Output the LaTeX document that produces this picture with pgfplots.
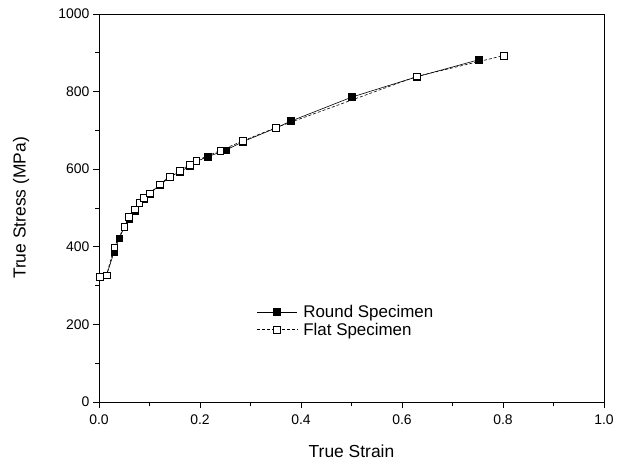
\documentclass[border=0pt]{standalone}
\usepackage{pgfplots}
\pgfplotsset{compat=1.18}
\usepackage{fontspec}
\setmainfont{Liberation Sans}
\begin{document}
\begin{tikzpicture}
\begin{axis}[
  scale only axis,
  width=505bp, height=388bp,
  xmin=0, xmax=1.0, ymin=0, ymax=1000,
  xtick={0,0.2,...,1.0},
  minor xtick={0.1,0.3,...,0.9},
  ytick={0,200,...,1000},
  minor ytick={100,300,...,900},
  xticklabel style={/pgf/number format/fixed,/pgf/number format/fixed zerofill,/pgf/number format/precision=1, yshift=-3bp},
  /pgf/number format/1000 sep={},
  /pgf/number format/assume math mode=true,
  tick label style={font=\fontsize{14}{16}\selectfont},
  label style={font=\fontsize{17.5}{20}\selectfont},
  xlabel={True Strain}, ylabel={True Stress (MPa)},
  xlabel style={at={(axis description cs:0.5,-0.126)}, anchor=center},
  ylabel style={at={(axis description cs:-0.154,0.5)}, anchor=center},
  tick align=outside,
  xtick pos=bottom, ytick pos=left,
  major tick length=6bp, minor tick length=3.5bp,
  axis line style={line width=0.9pt},
  every tick/.style={black, line width=0.8pt},
  legend style={draw=none, fill=none, at={(rel axis cs:0.31,0.258)}, anchor=north west,
    font=\fontsize{17}{17}\selectfont, row sep=0pt, inner sep=1pt},
  legend cell align=left,
  legend image code/.code={\draw[#1, mark repeat=2, mark phase=2] plot coordinates {(0bp,0bp) (20bp,0bp) (40bp,0bp)}; \path (44bp,0bp);},
]
\addplot[black, line width=0.6pt, mark=square*, mark size=3.3bp, mark options={solid, fill=black}]
coordinates {
(0.002,323) (0.015,327) (0.030,387) (0.040,422) (0.050,450) (0.060,472) (0.071,492) (0.080,512) (0.089,524)
(0.100,536) (0.120,559) (0.140,579) (0.160,594) (0.180,607) (0.193,620) (0.215,632) (0.251,649)
(0.285,671) (0.350,706) (0.380,724) (0.501,786) (0.629,838) (0.752,882)
};
\addlegendentry{Round Specimen}
\addplot[black, line width=0.6pt, densely dashed, mark=square*, mark size=3.3bp, mark options={solid, fill=white}]
coordinates {
(0.002,323) (0.015,327) (0.030,399) (0.050,452) (0.059,477) (0.071,497) (0.080,514) (0.089,526) (0.100,538)
(0.120,561) (0.140,581) (0.160,596) (0.180,612) (0.193,622) (0.240,648) (0.285,673) (0.350,707)
(0.629,839) (0.802,893)
};
\addlegendentry{Flat Specimen}
\end{axis}
\path[use as bounding box] (current axis.south west) ++(-99bp,-63bp) rectangle ++(628bp,465bp);
\end{tikzpicture}
\end{document}
